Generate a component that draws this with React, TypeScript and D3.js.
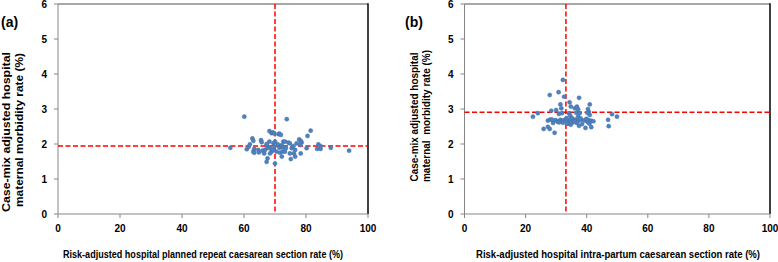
import React from "react";
import * as d3 from "d3";

// Panel (a): planned repeat caesarean section rate vs maternal morbidity
const seriesA: [number, number][] = [
  [55.6, 1.89], [60.1, 2.78], [60.9, 1.85], [61.5, 1.92], [61.9, 1.99], [62.7, 2.16],
  [63.0, 2.09], [63.3, 1.86], [63.0, 1.78], [63.3, 1.75], [64.6, 1.83], [64.8, 1.76],
  [65.5, 2.11], [65.7, 2.05], [66.0, 1.81], [66.5, 1.73], [66.8, 1.83], [67.3, 1.97],
  [67.6, 1.89], [67.3, 2.0], [68.2, 2.07], [68.4, 1.88], [68.9, 1.78], [68.4, 1.73],
  [67.6, 1.59], [67.3, 1.49], [68.2, 2.37], [68.9, 2.31], [69.3, 2.33], [69.7, 2.3],
  [69.5, 2.02], [70.0, 2.07], [69.8, 1.92], [69.5, 1.83], [70.5, 1.78], [70.0, 1.44],
  [70.9, 1.99], [71.4, 1.89], [71.1, 2.28], [71.4, 2.3], [71.9, 2.26], [71.6, 1.75],
  [72.2, 1.64], [72.7, 2.07], [72.2, 1.92], [72.4, 1.78], [72.2, 1.97], [72.7, 1.9],
  [73.2, 1.78], [73.5, 1.88], [73.8, 2.71], [73.2, 2.07], [74.3, 2.04], [74.8, 2.02],
  [74.8, 1.73], [75.1, 1.57], [75.4, 1.88], [75.9, 1.94], [76.1, 1.73], [76.5, 1.83],
  [76.5, 1.64], [77.0, 2.02], [77.8, 2.13], [78.3, 2.09], [78.6, 2.04], [78.1, 1.97],
  [78.3, 1.73], [80.2, 1.88], [80.5, 2.23], [81.5, 2.38], [83.6, 1.86], [84.0, 1.99],
  [84.7, 1.94], [84.7, 1.86], [88.0, 1.89], [93.9, 1.81],
];
const refA = { x: 70.0, y: 1.94 };

// Panel (b): intra-partum caesarean section rate vs maternal morbidity
const seriesB: [number, number][] = [
  [22.4, 2.78], [24.0, 2.88], [25.9, 2.43], [27.3, 2.49], [27.9, 2.43], [29.5, 2.32],
  [27.9, 3.4], [30.8, 3.48], [32.2, 3.83], [32.6, 3.35], [34.4, 3.19], [37.5, 3.32],
  [31.4, 3.13], [31.7, 3.02], [34.8, 3.07], [36.1, 3.02], [36.8, 3.07], [37.2, 2.99],
  [41.0, 3.13], [40.4, 3.0], [40.7, 2.92], [28.4, 2.95], [30.0, 2.97], [30.9, 2.86],
  [31.9, 2.88], [34.2, 2.88], [34.6, 2.81], [36.6, 2.89], [37.7, 2.88], [37.2, 2.78],
  [40.2, 2.89], [41.0, 2.83],
  [27.3, 2.67], [28.1, 2.7], [29.0, 2.66], [29.8, 2.68], [30.6, 2.65], [31.4, 2.69],
  [32.2, 2.67], [33.0, 2.7], [33.9, 2.66], [34.6, 2.69], [35.5, 2.67], [36.3, 2.7],
  [37.2, 2.66], [38.3, 2.69], [39.3, 2.67], [39.9, 2.72], [40.7, 2.68], [41.5, 2.66],
  [29.0, 2.6], [30.6, 2.63], [32.2, 2.61], [34.0, 2.58], [34.8, 2.55], [35.5, 2.62],
  [36.8, 2.6], [37.5, 2.52], [38.5, 2.57], [39.6, 2.46], [40.4, 2.62], [41.5, 2.48],
  [42.2, 2.65], [28.6, 2.7], [33.4, 2.74], [35.2, 2.74], [36.0, 2.64], [31.0, 2.62],
  [38.0, 2.73], [40.9, 2.58], [33.5, 2.58],
  [47.0, 2.69], [47.2, 2.51], [48.3, 2.85], [49.9, 2.78],
];
const refB = { x: 33.2, y: 2.91 };

const xTicks = [0, 20, 40, 60, 80, 100];
const yTicks = [0, 1, 2, 3, 4, 5, 6];
const yTitle1 = "Case-mix adjusted hospital";
const yTitleA2 = "maternal morbidity rate (%)";
const yTitleB2 = "maternal  morbidity rate (%)";
const xTitleA = "Risk-adjusted hospital planned repeat caesarean section rate (%)";
const xTitleB = "Risk-adjusted hospital intra-partum caesarean section rate (%)";

const FONT = "'Liberation Sans', Arial, sans-serif";

type PanelProps = {
  data: [number, number][];
  refLine: { x: number; y: number };
  left: number;
  right: number;
  label: string;
  labelX: number;
  xTitle: string;
  xTitleCx: number;
  xTitleLen: number;
  y1: { x: number; cy: number; len: number; size: number; weight: string };
  y2: { x: number; cy: number; len: number; size: number; weight: string; text: string };
};

function Panel(p: PanelProps) {
  const x = d3.scaleLinear().domain([0, 100]).range([p.left, p.right]);
  const y = d3.scaleLinear().domain([0, 6]).range([214, 4]);
  const [x0, x1] = x.range();
  const [yb, yt] = y.range();
  const grey = "#868686";
  return (
    <g>
      {/* frame */}
      <line x1={x0} x2={x1} y1={yt} y2={yt} stroke="#8a8a8a" strokeWidth={1.5} />
      <line x1={x1} x2={x1} y1={yt - 0.75} y2={yb} stroke="#000" strokeWidth={1.5} />
      <line x1={x0} x2={x0} y1={yt} y2={yb} stroke={grey} strokeWidth={1} />
      <line x1={x0} x2={x1} y1={yb} y2={yb} stroke={grey} strokeWidth={1} />
      {yTicks.map((t) => (
        <g key={"y" + t}>
          <line x1={x0 - 4} x2={x0} y1={y(t)} y2={y(t)} stroke={grey} />
          <text x={x0 - 11} y={y(t) + 3.5} textAnchor="end" fontSize={10} fontWeight="bold" fontFamily={FONT} fill="#000">
            {t}
          </text>
        </g>
      ))}
      {xTicks.map((t) => (
        <g key={"x" + t}>
          <line x1={x(t)} x2={x(t)} y1={yb} y2={yb + 4} stroke={grey} />
          <text x={x(t)} y={232} textAnchor="middle" fontSize={10} fontWeight="bold" fontFamily={FONT} fill="#000">
            {t}
          </text>
        </g>
      ))}
      {/* reference lines */}
      <line x1={x(p.refLine.x)} x2={x(p.refLine.x)} y1={yt} y2={yb} stroke="#ff0000" strokeWidth={1.5} strokeDasharray="5 2.5" />
      <line x1={x0} x2={x1} y1={y(p.refLine.y)} y2={y(p.refLine.y)} stroke="#ff0000" strokeWidth={1.5} strokeDasharray="5 2.5" />
      {/* points */}
      {p.data.map((d, i) => (
        <circle key={i} cx={x(d[0])} cy={y(d[1])} r={2.1} fill="#4f81bd" stroke="#3d6ca8" strokeWidth={0.4} />
      ))}
      {/* titles */}
      <text
        x={p.xTitleCx}
        y={258}
        textAnchor="middle"
        fontSize={10}
        fontWeight="bold"
        fontFamily={FONT}
        textLength={p.xTitleLen}
        lengthAdjust="spacingAndGlyphs"
      >
        {p.xTitle}
      </text>
      <text
        transform={`translate(${p.y1.x},${p.y1.cy}) rotate(-90)`}
        textAnchor="middle"
        fontSize={p.y1.size}
        fontWeight={p.y1.weight}
        fontFamily={FONT}
        textLength={p.y1.len}
        lengthAdjust="spacingAndGlyphs"
      >
        {yTitle1}
      </text>
      <text
        transform={`translate(${p.y2.x},${p.y2.cy}) rotate(-90)`}
        textAnchor="middle"
        fontSize={p.y2.size}
        fontWeight={p.y2.weight}
        fontFamily={FONT}
        textLength={p.y2.len}
        lengthAdjust="spacingAndGlyphs"
        xmlSpace="preserve"
        style={{ whiteSpace: "pre" }}
      >
        {p.y2.text}
      </text>
      <text x={p.labelX} y={27} fontSize={14} fontWeight="bold" fontFamily={FONT}>
        {p.label}
      </text>
    </g>
  );
}

export default function App() {
  return (
    <svg
      width={778}
      height={262}
      style={{ position: "absolute", left: 0, top: 0, background: "#fff" }}
    >
      <rect width={778} height={262} fill="#fff" />
      <Panel
        data={seriesA}
        refLine={refA}
        left={58}
        right={368}
        label="(a)"
        labelX={1}
        xTitle={xTitleA}
        xTitleCx={203}
        xTitleLen={280}
        y1={{ x: 10, cy: 132, len: 160, size: 11.5, weight: "bold" }}
        y2={{ x: 23, cy: 130, len: 154, size: 11.5, weight: "bold", text: yTitleA2 }}
      />
      <Panel
        data={seriesB}
        refLine={refB}
        left={464.5}
        right={770}
        label="(b)"
        labelX={405}
        xTitle={xTitleB}
        xTitleCx={618}
        xTitleLen={284}
        y1={{ x: 418, cy: 117, len: 129, size: 10.5, weight: "bold" }}
        y2={{ x: 430, cy: 116, len: 132, size: 10.5, weight: "bold", text: yTitleB2 }}
      />
    </svg>
  );
}
